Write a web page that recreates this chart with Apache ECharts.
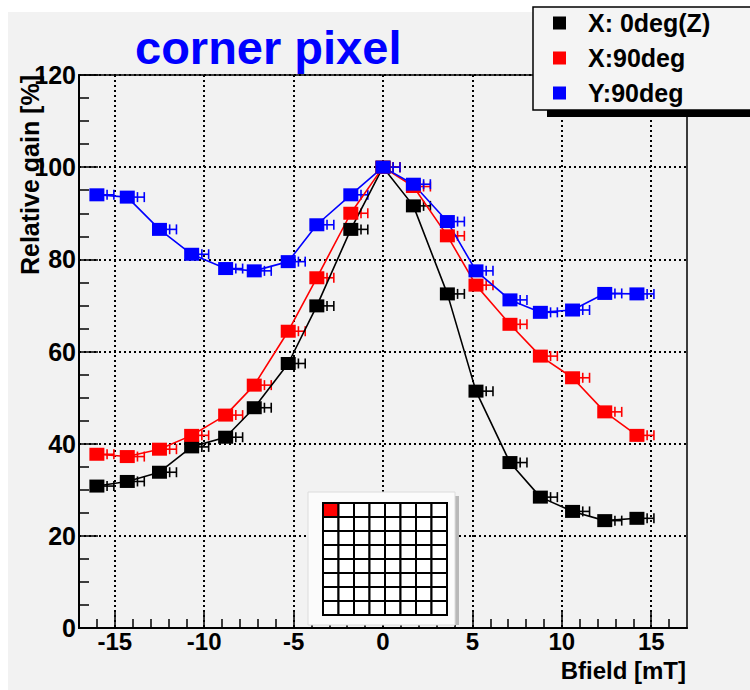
<!DOCTYPE html>
<html>
<head>
<meta charset="utf-8">
<script src="https://cdn.jsdelivr.net/npm/echarts@6/dist/echarts.min.js"></script>
<style>html,body{margin:0;padding:0;background:#fff}#c{width:750px;height:690px}</style>
</head>
<body>
<div id="c"></div>
<script>
// ---- data ----
const seriesNames = ['X: 0deg(Z)', 'X:90deg', 'Y:90deg'];
const bfield = [-16.0, -14.3, -12.5, -10.7, -8.8, -7.2, -5.3, -3.7, -1.8, 0, 1.7, 3.6, 5.2, 7.1, 8.8, 10.6, 12.4, 14.2];
const gainX0 = [30.8, 31.8, 33.8, 39.3, 41.4, 47.8, 57.4, 69.9, 86.5, 100, 91.6, 72.5, 51.4, 35.9, 28.4, 25.3, 23.3, 23.8];
const gainX90 = [37.7, 37.2, 38.8, 41.8, 46.2, 52.7, 64.4, 76.0, 90.0, 100, 95.8, 85.1, 74.4, 65.9, 59.0, 54.3, 46.9, 41.8];
const gainY90 = [94.0, 93.5, 86.5, 81.1, 78.0, 77.5, 79.5, 87.5, 94.0, 100, 96.3, 88.2, 77.5, 71.2, 68.5, 69.0, 72.6, 72.5];
const bfieldErr = 0.95;
const xMajorTicks = [-15, -10, -5, 0, 5, 10, 15];
const xMinorTicks = [-16, -14, -13, -12, -11, -9, -8, -7, -6, -4, -3, -2, -1, 1, 2, 3, 4, 6, 7, 8, 9, 11, 12, 13, 14, 16];
const titleText = 'corner pixel';
const xTitle = 'Bfield [mT]';
const yTitle = 'Relative gain [%]';

const FONT = '"Liberation Sans", Arial, Helvetica, sans-serif';
const colors = ['#000000', '#ff0000', '#0000ff'];
const gains = [gainX0, gainX90, gainY90];

function pairs(v) { return bfield.map((x, i) => [x, v[i]]); }

const errSeries = gains.map((g, k) => ({
  type: 'custom',
  name: 'err' + k,
  xAxisIndex: 0, yAxisIndex: 0,
  data: pairs(g),
  encode: { x: 0, y: 1 },
  z: 2,
  silent: true,
  renderItem: function (params, api) {
    const x = api.value(0), y = api.value(1);
    const p0 = api.coord([x, y]);
    const p1 = api.coord([x + bfieldErr, y]);
    const pm = api.coord([x + bfieldErr * 0.6, y]);
    const st = { stroke: colors[k], lineWidth: 1.6 };
    return {
      type: 'group',
      children: [
        { type: 'line', shape: { x1: p0[0], y1: p0[1], x2: p1[0], y2: p1[1] }, style: st },
        { type: 'line', shape: { x1: p1[0], y1: p1[1] - 5, x2: p1[0], y2: p1[1] + 5 }, style: st },
        { type: 'line', shape: { x1: pm[0], y1: pm[1] - 5, x2: pm[0], y2: pm[1] + 5 }, style: st }
      ]
    };
  }
}));

const lineSeries = gains.map((g, k) => ({
  type: 'line',
  name: seriesNames[k],
  xAxisIndex: 0, yAxisIndex: 0,
  data: pairs(g),
  symbol: 'rect',
  symbolSize: [15, 13],
  showSymbol: true,
  z: 3,
  itemStyle: { color: colors[k] },
  lineStyle: { color: colors[k], width: 1.6 }
}));

// inset pixel map
const inset = [];
inset.push({ type: 'rect', z: 5, shape: { x: 455, y: 496, width: 4, height: 129 }, style: { fill: '#b8b8b8' } });
inset.push({ type: 'rect', z: 5, shape: { x: 308, y: 492, width: 147, height: 133 }, style: { fill: '#fbfbfb', stroke: '#dcdcdc', lineWidth: 1 } });
const gx = 323, gy = 503, cw = 15.5, ch = 14;
for (let r = 0; r < 8; r++) {
  for (let c = 0; c < 8; c++) {
    inset.push({ type: 'rect', z: 6, shape: { x: gx + c * cw, y: gy + r * ch, width: cw, height: ch },
      style: { fill: (r === 0 && c === 0) ? '#ff0000' : '#ffffff', stroke: '#000', lineWidth: 2 } });
  }
}

const option = {
  animation: false,
  backgroundColor: '#f2f2f2',
  title: {
    text: titleText, left: 135, top: 24, padding: 0, z: 6,
    textStyle: { fontFamily: FONT, fontSize: 47, fontWeight: 'bold', color: '#0000ff' }
  },
  legend: {
    data: seriesNames,
    orient: 'vertical',
    left: 553, top: 9, padding: 0,
    itemWidth: 13, itemHeight: 13, itemGap: 7,
    icon: 'rect',
    z: 20,
    selectedMode: false,
    textStyle: { fontFamily: FONT, fontSize: 25, fontWeight: 'bold', color: '#000', lineHeight: 28, padding: [0, 0, 0, 17] }
  },
  grid: {
    left: 79, right: 63, top: 75, bottom: 62,
    show: true, borderColor: '#000', borderWidth: 1.5, backgroundColor: 'transparent',
    containLabel: false, outerBoundsMode: 'none'
  },
  xAxis: [{
    type: 'value', min: -17, max: 17, position: 'bottom',
    axisLine: { show: true, onZero: false, lineStyle: { color: '#000', width: 2 } },
    axisTick: { show: true, inside: true, length: 17, customValues: xMajorTicks, lineStyle: { color: '#000', width: 1.5 } },
    axisLabel: { show: true, customValues: xMajorTicks, margin: 3, color: '#000', fontFamily: FONT, fontSize: 24, lineHeight: 21, fontWeight: 'bold' },
    splitLine: { show: true, lineStyle: { color: '#000', width: 2, type: [2, 3] } }
  }, {
    type: 'value', min: -17, max: 17, position: 'bottom',
    axisLine: { show: false, onZero: false },
    axisTick: { show: true, inside: true, length: 9, customValues: xMinorTicks, lineStyle: { color: '#000', width: 1.5 } },
    axisLabel: { show: false },
    splitLine: { show: false }
  }],
  yAxis: {
    type: 'value', min: 0, max: 120, interval: 20,
    axisLine: { show: true, onZero: false, lineStyle: { color: '#000', width: 2 } },
    axisTick: { show: true, inside: true, length: 19, lineStyle: { color: '#000', width: 1.5 } },
    minorTick: { show: true, splitNumber: 4, length: 10, lineStyle: { color: '#000', width: 1.5 } },
    axisLabel: { margin: 3, color: '#000', fontFamily: FONT, fontSize: 25, fontWeight: 'bold' },
    splitLine: { show: true, lineStyle: { color: '#000', width: 2, type: [2, 3] } }
  },
  graphic: [
    { type: 'rect', z: 1, shape: { x: 0, y: 0, width: 750, height: 12 }, style: { fill: '#ffffff' } },
    { type: 'rect', z: 1, shape: { x: 0, y: 0, width: 8, height: 690 }, style: { fill: '#ffffff' } },
    { type: 'rect', z: 10, shape: { x: 547, y: 109, width: 210, height: 8 }, style: { fill: '#000' } },
    { type: 'rect', z: 10, shape: { x: 533, y: 7, width: 230, height: 103 }, style: { fill: '#f4f4f4', stroke: '#000', lineWidth: 1.5 } },
    { type: 'text', z: 6, x: 686, y: 670, style: { text: xTitle, font: 'bold 24px ' + FONT, lineHeight: 21, fill: '#000', align: 'right', verticalAlign: 'middle' } },
    { type: 'text', z: 6, x: 30, y: 75, rotation: Math.PI / 2, style: { text: yTitle, font: 'bold 25px ' + FONT, fill: '#000', align: 'right', verticalAlign: 'middle' } }
  ].concat(inset),
  series: errSeries.concat(lineSeries)
};

const chart = echarts.init(document.getElementById('c'), null, { renderer: 'svg', width: 750, height: 690 });
chart.setOption(option);
</script>
</body>
</html>
